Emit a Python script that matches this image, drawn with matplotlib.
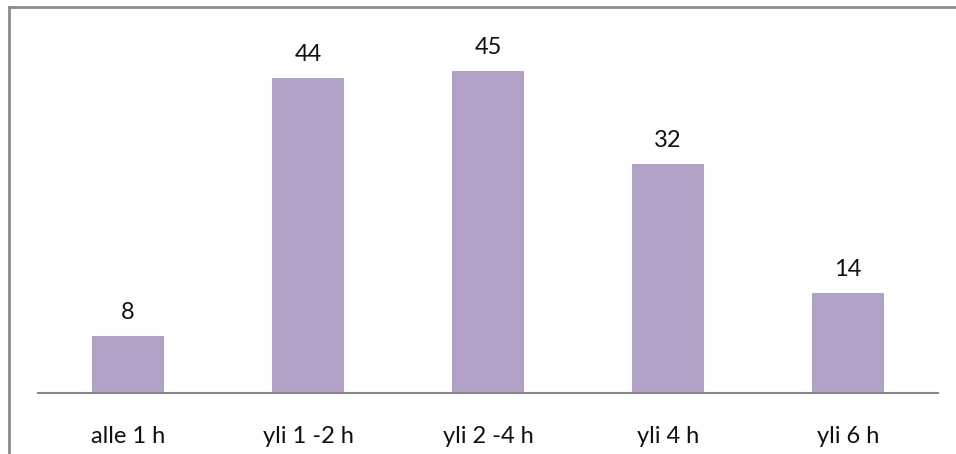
import matplotlib.pyplot as plt
from matplotlib.lines import Line2D

categories = ['alle 1 h', 'yli 1 -2 h', 'yli 2 -4 h', 'yli 4 h', 'yli 6 h']
values = [8, 44, 45, 32, 14]

plt.rcParams['font.family'] = ['Lato', 'DejaVu Sans']

W, H = 956, 454
fig = plt.figure(figsize=(W / 100, H / 100), dpi=100)
ax = fig.add_axes([38 / W, (H - 393) / H, 900 / W, (393 - 35.5) / H])

x = range(len(categories))
ax.bar(x, values, width=0.4, color='#b3a2c7', zorder=2)
for i, v in zip(x, values):
    ax.annotate(str(v), (i, v), xytext=(0, 9.5), textcoords='offset points',
                ha='center', va='bottom', fontsize=17, color='#111111')

ax.set_xlim(-0.5, len(categories) - 0.5)
ax.set_ylim(0, 50)
ax.set_xticks(list(x))
ax.set_xticklabels(categories, fontsize=17, color='#111111')
ax.tick_params(axis='x', length=0, pad=24)
ax.set_yticks([])
for s in ['top', 'right', 'left']:
    ax.spines[s].set_visible(False)
ax.spines['bottom'].set_color('#888888')
ax.spines['bottom'].set_linewidth(1.5)

# outer chart border (cut off at right and bottom)
fig.add_artist(Line2D([8.5 / W, 8.5 / W], [0, 1 - 6.5 / H], color='#8c8c8c', lw=2))
fig.add_artist(Line2D([8.5 / W, 1], [1 - 6.5 / H, 1 - 6.5 / H], color='#8c8c8c', lw=2))

fig.savefig('out.png', dpi=100)
